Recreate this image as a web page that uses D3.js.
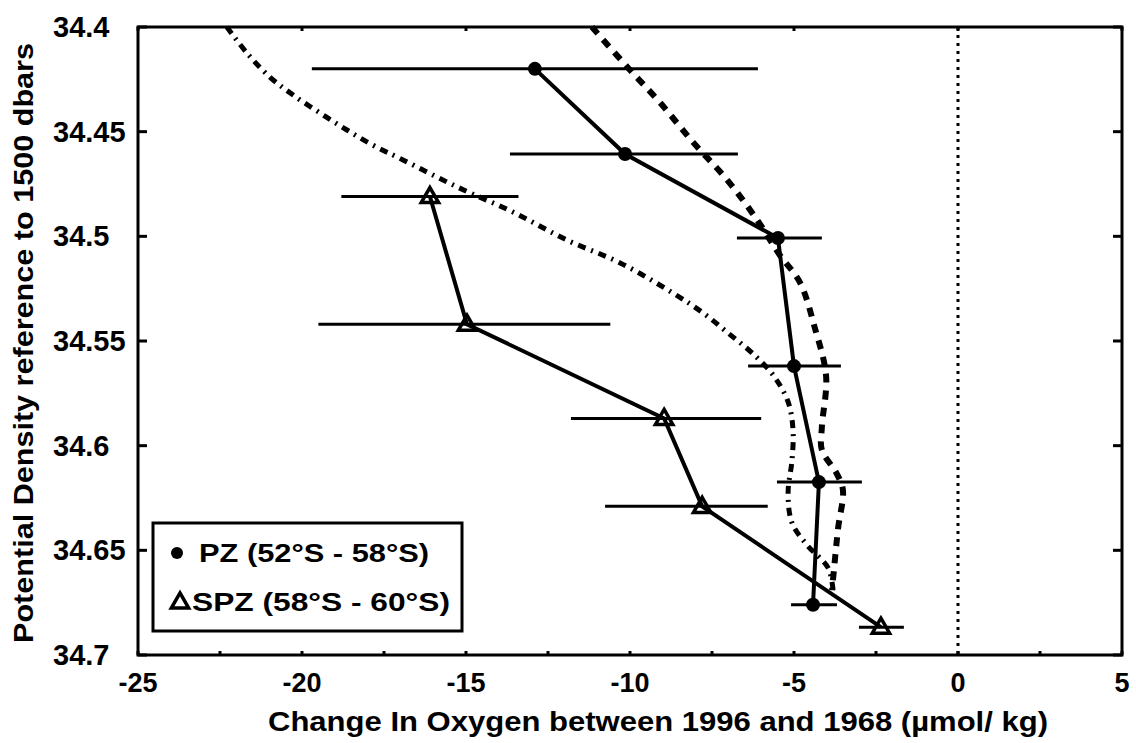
<!DOCTYPE html>
<html>
<head>
<meta charset="utf-8">
<script src="https://cdn.jsdelivr.net/npm/d3@7"></script>
<style>
  body { margin: 0; background: #fff; }
  text { font-family: "Liberation Sans", Arial, sans-serif; font-weight: bold; fill: #000; }
</style>
</head>
<body>
<svg id="chart" width="1136" height="743"></svg>
<script>
// PZ (52S - 58S): oxygen change, density, error bar ends
var pzChange = [-12.9, -10.15, -5.49, -5.0, -4.24, -4.42];
var pzDensity = [34.42, 34.4607, 34.5008, 34.562, 34.6174, 34.676];
var pzLow = [-19.7, -13.66, -6.74, -6.4, -5.52, -5.09];
var pzHigh = [-6.1, -6.71, -4.15, -3.57, -2.93, -3.69];

// SPZ (58S - 60S)
var spzChange = [-16.1, -14.97, -8.96, -7.8, -2.35];
var spzDensity = [34.481, 34.542, 34.587, 34.629, 34.6867];
var spzLow = [-18.8, -19.5, -11.8, -10.76, -3.02];
var spzHigh = [-13.4, -10.6, -6.0, -5.8, -1.65];

// dashed curve
var dashChange = [-11.16, -10.09, -9.09, -8.08, -7.04, -6.13, -5.43, -4.82, -4.36, -4.02, -4.15, -4.15, -3.71, -3.51, -3.66, -3.84];
var dashDensity = [34.4, 34.419, 34.436, 34.455, 34.473, 34.492, 34.509, 34.522, 34.544, 34.567, 34.591, 34.602, 34.613, 34.621, 34.64, 34.669];

// dash-dot curve
var dotChange = [-22.29, -21.68, -20.98, -20.27, -19.45, -18.63, -17.84, -16.92, -15.27, -13.57, -11.92, -10.3, -8.69, -7.77, -7.01, -6.28, -5.64, -5.18, -5.03, -5.06, -5.18, -5.06, -4.6, -3.96, -3.81];
var dotDensity = [34.4, 34.4124, 34.4239, 34.4325, 34.4411, 34.4492, 34.4564, 34.4635, 34.4764, 34.4884, 34.5018, 34.5127, 34.5271, 34.5366, 34.5462, 34.5557, 34.5662, 34.5791, 34.5925, 34.6068, 34.6226, 34.6369, 34.6475, 34.6584, 34.669];

var xTicks = [-25, -20, -15, -10, -5, 0, 5];
var xMinorTicks = [-25, -22.5, -20, -17.5, -15, -12.5, -10, -7.5, -5, -2.5, 0, 2.5, 5];
var yTicks = [34.4, 34.45, 34.5, 34.55, 34.6, 34.65, 34.7];
var legendLabels = ["PZ (52°S - 58°S)", "SPZ (58°S - 60°S)"];

var svg = d3.select("#chart");
var mLeft = 138, mRight = 1122, mTop = 27, mBottom = 655;

var x = d3.scaleLinear().domain([-25, 5]).range([mLeft, mRight]);
var y = d3.scaleLinear().domain([34.4, 34.7]).range([mTop, mBottom]);

function pts(xs, ys) { return xs.map(function (v, i) { return [v, ys[i]]; }); }

var line = d3.line()
    .x(function (d) { return x(d[0]); })
    .y(function (d) { return y(d[1]); });

// zero line
svg.append("line")
    .attr("x1", x(0)).attr("x2", x(0))
    .attr("y1", mTop).attr("y2", mBottom)
    .attr("stroke", "#000").attr("stroke-width", 3)
    .attr("stroke-dasharray", "3,5");

// model curves
svg.append("path")
    .datum(pts(dashChange, dashDensity))
    .attr("d", line.curve(d3.curveCatmullRom))
    .attr("fill", "none").attr("stroke", "#000")
    .attr("stroke-width", 6).attr("stroke-dasharray", "9,8");

svg.append("path")
    .datum(pts(dotChange, dotDensity))
    .attr("d", line.curve(d3.curveCatmullRom))
    .attr("fill", "none").attr("stroke", "#000")
    .attr("stroke-width", 5).attr("stroke-dasharray", "8,6,2,6");

line.curve(d3.curveLinear);

// error bars
function errorBars(lo, hi, dens) {
    svg.append("g").selectAll("line")
        .data(dens)
        .enter().append("line")
        .attr("x1", function (d, i) { return x(lo[i]); })
        .attr("x2", function (d, i) { return x(hi[i]); })
        .attr("y1", function (d) { return y(d); })
        .attr("y2", function (d) { return y(d); })
        .attr("stroke", "#000").attr("stroke-width", 3);
}
errorBars(pzLow, pzHigh, pzDensity);
errorBars(spzLow, spzHigh, spzDensity);

// series lines
svg.append("path")
    .datum(pts(pzChange, pzDensity))
    .attr("d", line)
    .attr("fill", "none").attr("stroke", "#000").attr("stroke-width", 4);
svg.append("path")
    .datum(pts(spzChange, spzDensity))
    .attr("d", line)
    .attr("fill", "none").attr("stroke", "#000").attr("stroke-width", 4);

// markers
svg.append("g").selectAll("circle")
    .data(pts(pzChange, pzDensity))
    .enter().append("circle")
    .attr("cx", function (d) { return x(d[0]); })
    .attr("cy", function (d) { return y(d[1]); })
    .attr("r", 7).attr("fill", "#000");

var tri = d3.symbol().type(d3.symbolTriangle).size(130);
svg.append("g").selectAll("path")
    .data(pts(spzChange, spzDensity))
    .enter().append("path")
    .attr("d", tri)
    .attr("transform", function (d) { return "translate(" + x(d[0]) + "," + (y(d[1]) + 1) + ")"; })
    .attr("fill", "none").attr("stroke", "#000").attr("stroke-width", 3.5);

// frame
svg.append("rect")
    .attr("x", mLeft).attr("y", mTop)
    .attr("width", mRight - mLeft).attr("height", mBottom - mTop)
    .attr("fill", "none").attr("stroke", "#000").attr("stroke-width", 3);

// ticks (inward)
svg.append("g").selectAll("line")
    .data(xMinorTicks)
    .enter().append("line")
    .attr("x1", function (d) { return x(d); }).attr("x2", function (d) { return x(d); })
    .attr("y1", mBottom).attr("y2", mBottom - 4)
    .attr("stroke", "#000").attr("stroke-width", 3);
svg.append("g").selectAll("line")
    .data(xTicks)
    .enter().append("line")
    .attr("x1", function (d) { return x(d); }).attr("x2", function (d) { return x(d); })
    .attr("y1", mTop).attr("y2", mTop + 4)
    .attr("stroke", "#000").attr("stroke-width", 3);
svg.append("g").selectAll("line")
    .data(yTicks)
    .enter().append("line")
    .attr("x1", mLeft).attr("x2", mLeft + 9)
    .attr("y1", function (d) { return y(d); }).attr("y2", function (d) { return y(d); })
    .attr("stroke", "#000").attr("stroke-width", 3);
svg.append("g").selectAll("line")
    .data(yTicks)
    .enter().append("line")
    .attr("x1", mRight).attr("x2", mRight - 9)
    .attr("y1", function (d) { return y(d); }).attr("y2", function (d) { return y(d); })
    .attr("stroke", "#000").attr("stroke-width", 3);

// tick labels
svg.append("g").selectAll("text")
    .data(xTicks)
    .enter().append("text")
    .attr("x", function (d) { return x(d); })
    .attr("y", 692)
    .attr("text-anchor", "middle")
    .attr("font-size", 27)
    .text(function (d) { return d; });

svg.append("g").selectAll("text")
    .data(yTicks)
    .enter().append("text")
    .attr("x", 53)
    .attr("y", function (d) { return y(d) + 10; })
    .attr("font-size", 29)
    .text(function (d) { return d; });

// axis titles
svg.append("text")
    .attr("x", 658).attr("y", 731)
    .attr("text-anchor", "middle")
    .attr("font-size", 27)
    .attr("textLength", 780).attr("lengthAdjust", "spacingAndGlyphs")
    .text("Change In Oxygen between 1996 and 1968 (µmol/ kg)");

svg.append("text")
    .attr("transform", "translate(33," + 343 + ") rotate(-90)")
    .attr("text-anchor", "middle")
    .attr("font-size", 28)
    .attr("textLength", 600).attr("lengthAdjust", "spacingAndGlyphs")
    .text("Potential Density reference to 1500 dbars");

// legend
var lg = svg.append("g");
lg.append("rect")
    .attr("x", 153).attr("y", 523).attr("width", 309).attr("height", 108)
    .attr("fill", "#fff").attr("stroke", "#000").attr("stroke-width", 3);
lg.append("circle").attr("cx", 177).attr("cy", 553).attr("r", 6).attr("fill", "#000");
lg.append("path").attr("d", tri).attr("transform", "translate(180,603)")
    .attr("fill", "none").attr("stroke", "#000").attr("stroke-width", 3.5);
lg.selectAll("text")
    .data(legendLabels)
    .enter().append("text")
    .attr("x", function (d, i) { return i === 0 ? 199 : 192; })
    .attr("y", function (d, i) { return i === 0 ? 562 : 611; })
    .attr("font-size", 26)
    .attr("textLength", function (d, i) { return i === 0 ? 230 : 258; })
    .attr("lengthAdjust", "spacingAndGlyphs")
    .text(function (d) { return d; });
</script>
</body>
</html>
